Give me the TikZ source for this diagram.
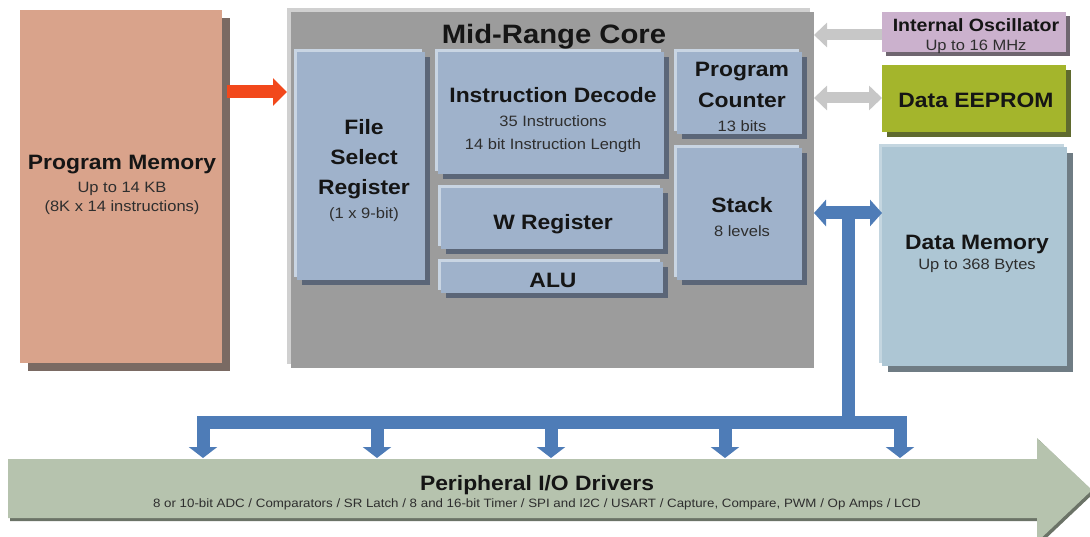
\documentclass[tikz,border=0pt]{standalone}
\usepackage{fontspec}
\setmainfont{Liberation Sans}[FakeStretch=1.1]
\usetikzlibrary{arrows.meta,calc,shadows}

\definecolor{pmfill}{HTML}{D9A38B}
\definecolor{pmshadow}{HTML}{7A6A63}
\definecolor{corefill}{HTML}{9C9C9C}
\definecolor{corerim}{HTML}{D0D0D0}
\definecolor{blkfill}{HTML}{9FB2CB}
\definecolor{blkhl}{HTML}{C9D5E3}
\definecolor{blkshadow}{HTML}{5B6678}
\definecolor{oscfill}{HTML}{CBB1CD}
\definecolor{oscshadow}{HTML}{6F6670}
\definecolor{eepfill}{HTML}{A4B52C}
\definecolor{eepshadow}{HTML}{5F6A2E}
\definecolor{dmfill}{HTML}{ADC6D4}
\definecolor{dmhl}{HTML}{C4D6E0}
\definecolor{dmshadow}{HTML}{6F7C84}
\definecolor{perfill}{HTML}{B6C3AE}
\definecolor{pershadow}{HTML}{6B7367}
\definecolor{buscol}{HTML}{4E7CB7}
\definecolor{linkgray}{HTML}{C7C7C7}
\definecolor{fetchred}{HTML}{F2481B}
\definecolor{txtdark}{HTML}{151515}
\definecolor{txtsub}{HTML}{2E2E2E}

\newcommand\fhead{\fontsize{26.6}{30}\selectfont\bfseries}
\newcommand\ftitle{\fontsize{20.8}{24}\selectfont\bfseries}
\newcommand\fosc{\fontsize{17.8}{21}\selectfont\bfseries}
\newcommand\fsub{\fontsize{15}{18}\selectfont}
\newcommand\fsmall{\fontsize{12.1}{14}\selectfont}

\begin{document}
\begin{tikzpicture}[x=1pt,y=-1pt,
  block/.style={draw=none,inner sep=0pt,outer sep=0pt,anchor=north west},
  solidshadow/.style n args={2}{general shadow={shadow xshift=#1,shadow yshift=-#1,fill=#2}},
  rimlight/.style n args={2}{general shadow={shadow xshift=-#1,shadow yshift=#1,fill=#2}},
  memblock/.style={block,fill=pmfill,solidshadow={8pt}{pmshadow}},
  coreblock/.style={block,fill=corefill,rimlight={4pt}{corerim}},
  unitblock/.style={block,fill=blkfill,rimlight={3pt}{blkhl},solidshadow={5pt}{blkshadow}},
  oscblock/.style={block,fill=oscfill,solidshadow={4pt}{oscshadow}},
  eepblock/.style={block,fill=eepfill,solidshadow={5pt}{eepshadow}},
  dmblock/.style={block,fill=dmfill,rimlight={3pt}{dmhl},solidshadow={6pt}{dmshadow}},
  lbl/.style={anchor=base,inner sep=0pt,text=txtdark},
  sublbl/.style={anchor=base,inner sep=0pt,text=txtsub,font=\fsub},
  fetch/.style={draw=fetchred,line width=13pt,-{Triangle[length=14pt,width=27pt]}},
  link/.style={draw=linkgray,line width=11pt,-{Triangle[length=13pt,width=24pt]}},
  dlink/.style={draw=linkgray,line width=11pt,{Triangle[length=13pt,width=24pt]}-{Triangle[length=13pt,width=24pt]}},
  bus/.style={draw=buscol,line width=13pt},
  busarrow/.style={bus,-{Triangle[length=11pt,width=28pt]}},
  dbusarrow/.style={bus,{Triangle[length=12pt,width=26pt]}-{Triangle[length=12pt,width=26pt]}},
]
\useasboundingbox (0,0) rectangle (1090,537);

% ---- program memory ----
\node[memblock,minimum width=202pt,minimum height=353pt] (pmem) at (20,10) {};
\node[lbl,font=\ftitle] (pmemT) at (122,170) {Program Memory};
\node[sublbl] (pmemA) at (122,193) {Up to 14 KB};
\node[sublbl] (pmemB) at (122,212) {(8K x 14 instructions)};

% ---- core and its units ----
\node[coreblock,minimum width=523pt,minimum height=356pt] (core) at (291,12) {};
\node[lbl,font=\fhead] (coreT) at (554,44) {Mid-Range Core};

\node[unitblock,minimum width=128pt,minimum height=228pt] (fsr) at (297,52) {};
\node[lbl,font=\ftitle] (fsrA) at (364,135) {File};
\node[lbl,font=\ftitle] (fsrB) at (364,165) {Select};
\node[lbl,font=\ftitle] (fsrC) at (364,195) {Register};
\node[sublbl] (fsrD) at (364,219) {(1 x 9-bit)};

\node[unitblock,minimum width=226pt,minimum height=122pt] (idec) at (438,52) {};
\node[lbl,font=\ftitle] (idecT) at (553,103) {Instruction Decode};
\node[sublbl] (idecA) at (553,127) {35 Instructions};
\node[sublbl] (idecB) at (553,150) {14 bit Instruction Length};

\node[unitblock,minimum width=222pt,minimum height=61pt] (wreg) at (441,188) {};
\node[lbl,font=\ftitle] (wregT) at (553,230) {W Register};

\node[unitblock,minimum width=222pt,minimum height=31pt] (alu) at (441,262) {};
\node[lbl,font=\ftitle] (aluT) at (553,288) {ALU};

\node[unitblock,minimum width=125pt,minimum height=82pt] (pc) at (677,52) {};
\node[lbl,font=\ftitle] (pcA) at (742,77) {Program};
\node[lbl,font=\ftitle] (pcB) at (742,108) {Counter};
\node[sublbl] (pcC) at (742,132) {13 bits};

\node[unitblock,minimum width=125pt,minimum height=132pt] (stack) at (677,148) {};
\node[lbl,font=\ftitle] (stackT) at (742,213) {Stack};
\node[sublbl] (stackA) at (742,237) {8 levels};

% ---- right-hand blocks ----
\node[oscblock,minimum width=184pt,minimum height=40pt] (osc) at (882,12) {};
\node[lbl,font=\fosc] (oscT) at (976,32) {Internal Oscillator};
\node[sublbl] (oscA) at (976,51) {Up to 16 MHz};

\node[eepblock,minimum width=184pt,minimum height=67pt] (eep) at (882,65) {};
\node[lbl,font=\ftitle] (eepT) at (976,108) {Data EEPROM};

\node[dmblock,minimum width=185pt,minimum height=219pt] (dmem) at (882,147) {};
\node[lbl,font=\ftitle] (dmemT) at (977,250) {Data Memory};
\node[sublbl] (dmemA) at (977,270) {Up to 368 Bytes};

% ---- peripheral arrow ----
\fill[pershadow] (10,463) -- (1039,463) -- (1039,440) -- (1094,493) -- (1039,545)
  -- (1039,521) -- (10,521) -- cycle;
\fill[perfill] (8,459) -- (1037,459) -- (1037,438) -- (1092,490) -- (1037,542)
  -- (1037,518) -- (8,518) -- cycle;
\node[lbl,font=\ftitle] (periph) at (537,490) {Peripheral I/O Drivers};
\node[lbl,font=\fsmall,text=txtsub] (periphA) at (537,507)
  {8 or 10-bit ADC / Comparators / SR Latch / 8 and 16-bit Timer / SPI and I2C / USART / Capture, Compare, PWM / Op Amps / LCD};

% ---- rows and bus points ----
\coordinate (rowFetch) at (0,92);
\coordinate (rowOsc) at (0,35);
\coordinate (rowEep) at (0,98);
\coordinate (rowData) at (0,213);
\coordinate (busTee) at (848,213);
\coordinate (busJoin) at (848,422);
\coordinate (busL) at (203,422);
\coordinate (busR) at (900,422);
\coordinate (drop1) at (377,422);
\coordinate (drop2) at (551,422);
\coordinate (drop3) at (725,422);
\coordinate (perTop) at (0,458);

% ---- connectors ----
\draw[fetch] ([xshift=5pt]pmem.east |- rowFetch) -- ([xshift=-4pt]core.west |- rowFetch);
\draw[link] (osc.west |- rowOsc) -- (core.east |- rowOsc);
\draw[dlink] (core.east |- rowEep) -- (eep.west |- rowEep);
\draw[bus] (busTee) -- ([yshift=-6.5pt]busJoin);
\draw[dbusarrow] (core.east |- rowData) -- (dmem.west |- rowData);
\draw[bus,{Triangle[length=11pt,width=28pt]}-{Triangle[length=11pt,width=28pt]}]
  (busL |- perTop) -- (busL) -- (busR) -- (busR |- perTop);
\foreach \d in {drop1,drop2,drop3}
  \draw[busarrow] ([yshift=-6pt]\d) -- (\d |- perTop);
\end{tikzpicture}
\end{document}
